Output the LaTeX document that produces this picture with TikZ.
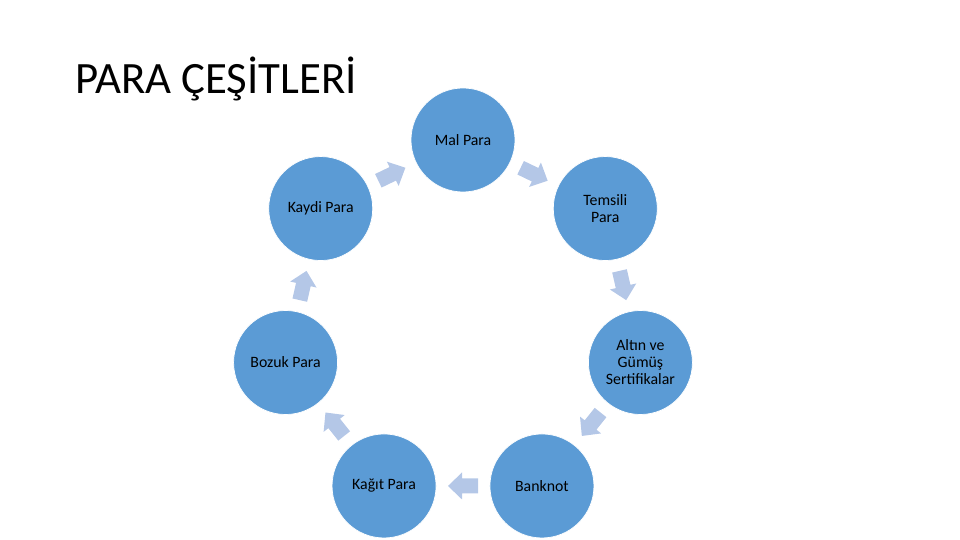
\documentclass[tikz,border=0pt]{standalone}
\usepackage{fontspec}
\setmainfont{Carlito}
\usetikzlibrary{calc}
\definecolor{circblue}{HTML}{5B9BD5}
\definecolor{arrblue}{HTML}{B4C7E7}

\begin{document}
\begin{tikzpicture}[
    kind/.style={circle, fill=circblue, draw=white, thin, minimum size=2.08cm, inner sep=1pt,
      align=center, font=\fontsize{9}{9.7}\selectfont},
    flowarr/.pic={\fill[arrblue] (-0.3,-0.15) -- (0.02,-0.15) -- (0.02,-0.27) -- (0.3,0)
      -- (0.02,0.27) -- (0.02,0.15) -- (-0.3,0.15) -- cycle;},
    onpath/.style={sloped, allow upside down}]
    \useasboundingbox (0,0) rectangle (19.2,10.8);
    \coordinate (ctr) at (9.26,4.36);
    \node[anchor=base west, inner sep=0pt, font=\fontsize{25.5}{30}\selectfont] (title) at (1.5,8.92) {PARA ÇEŞİTLERİ};
    \node[kind] (mal) at ($(ctr)+(90:3.64)$) {Mal Para};
    \node[kind] (temsili) at ($(ctr)+(38.57:3.64)$) {Temsili\\Para};
    \node[kind] (altin) at ($(ctr)+(-12.86:3.64)$) {Altın ve\\Gümüş\\Sertifikalar};
    \node[kind] (banknot) at ($(ctr)+(-64.29:3.64)$) {Banknot};
    \node[kind] (kagit) at ($(ctr)+(-115.71:3.64)$) {Kağıt Para};
    \node[kind] (bozuk) at ($(ctr)+(-167.14:3.64)$) {Bozuk Para};
    \node[kind] (kaydi) at ($(ctr)+(141.43:3.64)$) {Kaydi Para};
    \path (mal) -- pic[onpath] {flowarr} (temsili);
    \path (temsili) -- pic[onpath] {flowarr} (altin);
    \path (altin) -- pic[onpath] {flowarr} (banknot);
    \path (banknot) -- pic[onpath] {flowarr} (kagit);
    \path (kagit) -- pic[onpath] {flowarr} (bozuk);
    \path (bozuk) -- pic[onpath] {flowarr} (kaydi);
    \path (kaydi) -- pic[onpath] {flowarr} (mal);
\end{tikzpicture}
\end{document}
